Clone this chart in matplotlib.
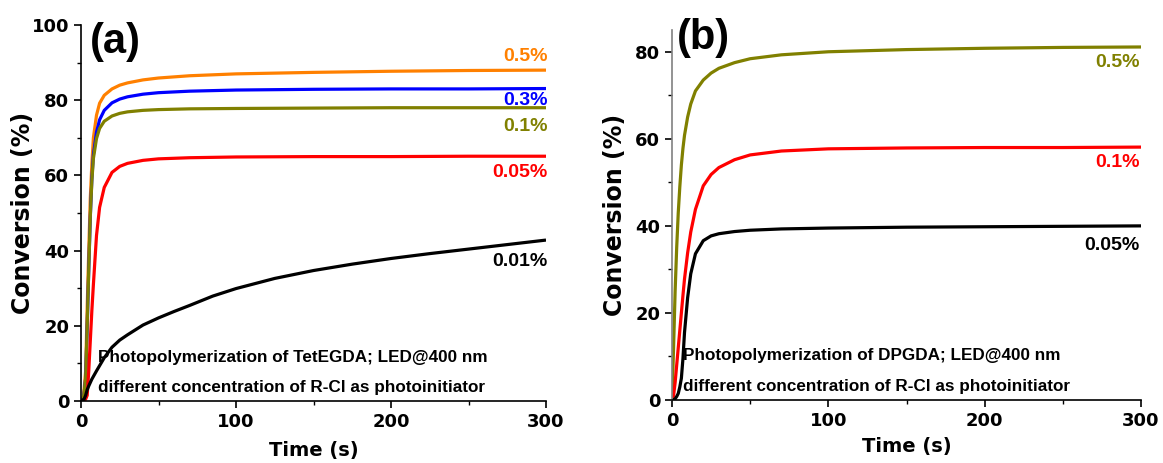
import matplotlib
matplotlib.use("Agg")
import matplotlib.pyplot as plt
from matplotlib.ticker import MultipleLocator

# ---------------- data ----------------
time_a = [0, 1, 2, 3, 4, 5, 6, 7, 8, 10, 12, 15, 20, 25, 30, 40, 50, 70, 100, 150, 200, 250, 300]
conv_a_05 = [0, 0, 3, 8, 25, 40, 54, 63, 70, 76, 79.2, 81.3, 83, 84, 84.6, 85.4, 85.9, 86.5, 87, 87.4, 87.7, 87.9, 88]
conv_a_03 = [0, 0, 2, 6, 20, 35, 49, 59, 65.5, 71.5, 74.8, 77.3, 79.3, 80.3, 80.9, 81.6, 82, 82.4, 82.7, 82.9, 83, 83, 83.1]
conv_a_01 = [0, 0, 2, 6, 20, 35, 49, 58.5, 64.5, 69.8, 72.5, 74.4, 75.8, 76.5, 76.9, 77.3, 77.5, 77.7, 77.8, 77.9, 78, 78, 78]
conv_a_005 = [0, 0, 0, 0.5, 1.5, 8, 16, 24, 31, 44, 51.5, 56.8, 60.8, 62.4, 63.2, 64, 64.4, 64.7, 64.9, 65, 65, 65.1, 65.1]
time_a_slow = [0, 2, 3, 4, 5, 7, 10, 15, 20, 25, 30, 40, 50, 60, 70, 85, 100, 125, 150, 175, 200, 225, 250, 275, 300]
conv_a_001 = [0, 0.5, 1.5, 3, 4, 5.8, 8, 11.5, 14.3, 16.2, 17.6, 20.2, 22.1, 23.8, 25.4, 27.9, 29.9, 32.6, 34.7, 36.4, 37.9, 39.2, 40.4, 41.6, 42.8]

time_b = [0, 1, 2, 3, 4, 5, 6, 7, 8, 10, 12, 15, 20, 25, 30, 40, 50, 70, 100, 150, 200, 250, 300]
conv_b_05 = [0, 12, 25, 35, 43, 49, 54, 57.8, 60.8, 65, 68, 71, 73.5, 75.1, 76.2, 77.5, 78.4, 79.3, 80, 80.5, 80.8, 81, 81.1]
conv_b_01 = [0, 1, 4, 8, 12, 16, 20, 24, 27.8, 33.8, 38.6, 43.8, 49.2, 51.8, 53.4, 55.2, 56.3, 57.2, 57.7, 57.9, 58, 58, 58.1]
conv_b_005 = [0, 0, 0.3, 0.8, 1.5, 3, 5, 9.5, 15.5, 23.5, 29, 33.6, 36.6, 37.7, 38.2, 38.7, 39, 39.3, 39.5, 39.7, 39.8, 39.9, 40]

labels_a = ["0.5%", "0.3%", "0.1%", "0.05%", "0.01%"]
labels_b = ["0.5%", "0.1%", "0.05%"]
colors_a = ["#FF8000", "#0000FF", "#808000", "#FF0000", "#000000"]
colors_b = ["#808000", "#FF0000", "#000000"]
label_y_a = [91.5, 79.8, 73.1, 60.9, 37.0]
label_y_b = [77.5, 54.6, 35.6]

xticks = [0, 100, 200, 300]
yticks_a = [0, 20, 40, 60, 80, 100]
yticks_b = [0, 20, 40, 60, 80]
note_a = ["Photopolymerization of TetEGDA; LED@400 nm",
          "different concentration of R-Cl as photoinitiator"]
note_b = ["Photopolymerization of DPGDA; LED@400 nm",
          "different concentration of R-Cl as photoinitiator"]

TICK_FONT = "DejaVu Sans"
LABEL_FONT = "DejaVu Sans"
TEXT_FONT = "Liberation Sans"

fig = plt.figure(figsize=(11.63, 4.63), dpi=100)
ax_a = fig.add_axes([81 / 1163, 62 / 463, 465 / 1163, 376 / 463])
ax_b = fig.add_axes([672 / 1163, 63 / 463, 469 / 1163, 370 / 463])


def style(ax, ylim, yticks, left_color, ylab_x, xlab_y):
    ax.set_xlim(0, 300)
    ax.set_ylim(*ylim)
    ax.set_xticks(xticks)
    ax.set_yticks(yticks)
    ax.xaxis.set_minor_locator(MultipleLocator(50))
    ax.yaxis.set_minor_locator(MultipleLocator(10))
    for s in ("top", "right"):
        ax.spines[s].set_visible(False)
    ax.spines["left"].set_color(left_color)
    ax.spines["left"].set_linewidth(1.2)
    ax.spines["bottom"].set_linewidth(1.2)
    ax.tick_params(which="major", direction="out", length=5, width=1.2)
    ax.tick_params(which="minor", direction="out", length=3, width=1.0)
    for lab in ax.get_xticklabels() + ax.get_yticklabels():
        lab.set_fontfamily(TICK_FONT)
        lab.set_fontweight("bold")
        lab.set_fontsize(13)
    ax.set_xlabel("Time (s)", fontfamily=LABEL_FONT, fontweight="bold", fontsize=14)
    ax.set_ylabel("Conversion (%)", fontfamily=LABEL_FONT, fontweight="bold", fontsize=17)
    ax.yaxis.set_label_coords(ylab_x, 0.5)
    ax.xaxis.set_label_coords(0.5, xlab_y)


series_a = [conv_a_05, conv_a_03, conv_a_01, conv_a_005]
for y, c in zip(series_a, colors_a[:4]):
    ax_a.plot(time_a, y, color=c, lw=2.3, solid_capstyle="butt")
ax_a.plot(time_a_slow, conv_a_001, color=colors_a[4], lw=2.3, solid_capstyle="butt")
for lab, c, yy in zip(labels_a, colors_a, label_y_a):
    ax_a.text(301, yy, lab, color=c, ha="right", va="center",
              fontfamily=TEXT_FONT, fontweight="bold", fontsize=14)
style(ax_a, (0, 100), yticks_a, "black", -0.099, -0.106)
ax_a.text(0.073, 0.955, "(a)", transform=ax_a.transAxes, ha="center", va="center",
          fontfamily=TEXT_FONT, fontweight="bold", fontsize=30)
for line, yy in zip(note_a, [11.7, 3.7]):
    ax_a.text(11, yy, line, ha="left", va="center", fontfamily=TEXT_FONT,
              fontweight="bold", fontsize=12.3)

series_b = [conv_b_05, conv_b_01, conv_b_005]
for y, c in zip(series_b, colors_b):
    ax_b.plot(time_b, y, color=c, lw=2.3, solid_capstyle="butt")
for lab, c, yy in zip(labels_b, colors_b, label_y_b):
    ax_b.text(299, yy, lab, color=c, ha="right", va="center",
              fontfamily=TEXT_FONT, fontweight="bold", fontsize=14)
style(ax_b, (0, 85), yticks_b, "#808080", -0.096, -0.1)
ax_b.text(0.068, 0.978, "(b)", transform=ax_b.transAxes, ha="center", va="center",
          fontfamily=TEXT_FONT, fontweight="bold", fontsize=30)
for line, yy in zip(note_b, [10.3, 3.2]):
    ax_b.text(7, yy, line, ha="left", va="center", fontfamily=TEXT_FONT,
              fontweight="bold", fontsize=12.3)

fig.savefig("out.png", dpi=100)
